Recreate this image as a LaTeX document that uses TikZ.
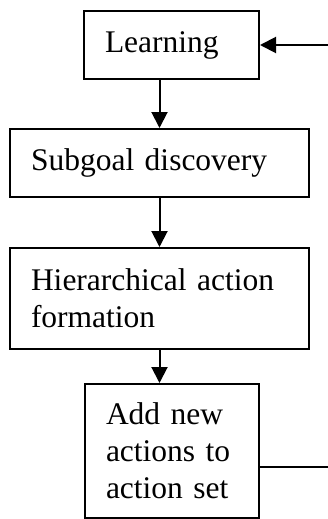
\documentclass[tikz,border=0pt]{standalone}
\usepackage{fontspec}
\setmainfont{Liberation Serif}
\usetikzlibrary{arrows.meta}
\begin{document}
\begin{tikzpicture}[x=1pt,y=-1pt,
  box/.style={draw,line width=2pt,anchor=north west,inner xsep=21pt,inner ysep=0pt,
    align=left,font=\fontsize{31.5}{37}\selectfont},
  arr/.style={line width=2pt,-{Triangle[width=16pt,length=16pt]}},
  ln/.style={line width=2pt}]
\useasboundingbox (0,0) rectangle (328,519);
\node[box,minimum width=175pt,minimum height=68pt,text width=133pt] (L) at (83,10) {Learning};
\node[box,minimum width=299pt,minimum height=68pt,text width=257pt] (S) at (9,128) {Subgoal discovery};
\node[box,minimum width=299pt,minimum height=101pt,text width=257pt] (H) at (9,247) {Hierarchical action\\formation};
\node[box,minimum width=174pt,minimum height=134pt,text width=132pt] (A) at (84,383) {Add new\\actions to\\action set};
\coordinate (fb1) at (328,467);
\coordinate (fb2) at (328,45);
\draw[arr] (L.south -| S.north) -- (S.north);
\draw[arr] (S.south) -- (H.north);
\draw[arr] (H.south) -- (H.south |- A.north);
\draw[ln] (A.east |- fb1) -- (fb1);
\draw[arr] (fb2) -- (fb2 -| L.east);
\end{tikzpicture}
\end{document}
